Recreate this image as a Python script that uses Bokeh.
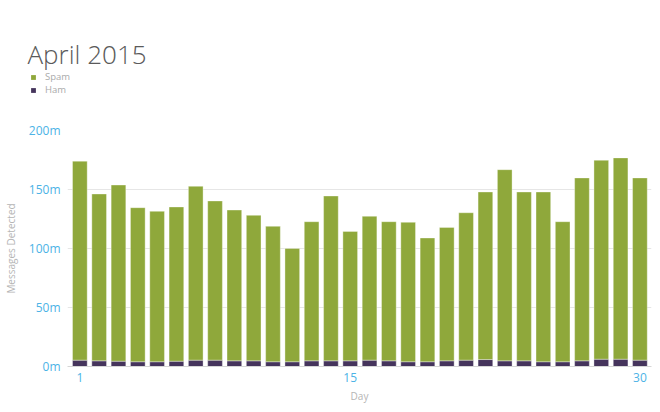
from bokeh.plotting import figure
from bokeh.models import ColumnDataSource, FixedTicker, Legend, LegendItem, Range1d, Label
from bokeh.layouts import column, row
from bokeh.embed import file_html
from bokeh.resources import INLINE

days = list(range(1, 31))
spam = [168.6, 141.4, 149.3, 130.6, 127.5, 130.7, 147.3, 134.9, 127.8, 123.3,
        114.8, 96.1, 117.9, 139.7, 109.7, 121.9, 117.9, 118.2, 104.9, 113.1,
        124.9, 142.0, 162.0, 143.1, 143.9, 118.7, 155.0, 168.6, 170.6, 154.4]
ham = [5.4, 4.8, 4.5, 4.0, 4.0, 4.5, 5.4, 5.4, 4.8, 4.8,
       4.0, 4.0, 4.8, 4.8, 4.8, 5.4, 4.8, 4.0, 4.0, 4.8,
       5.4, 5.9, 4.8, 4.8, 4.0, 4.0, 4.8, 6.2, 6.2, 5.4]
y_ticks = [0, 50, 100, 150, 200]
y_labels = ["0m", "50m", "100m", "150m", "200m"]
x_ticks = [1, 15, 30]
series_names = ["Spam", "Ham"]
title_text = "April 2015"

GREEN = "#8fa83b"
PURPLE = "#45345c"
BLUE = "#4cb3e6"
FONT = "Open Sans"
TITLE_FONT = "'Open Sans Light', 'Open Sans'"

W = 660
HEAD_H = 118

src = ColumnDataSource(dict(day=days, spam=spam, ham=ham))

# ---------- header: title + legend ----------
head = figure(width=W, height=HEAD_H, x_range=Range1d(0, W),
              y_range=Range1d(0, HEAD_H), min_border=0,
              min_border_left=0, min_border_right=0,
              min_border_top=0, min_border_bottom=0,
              x_axis_location=None, y_axis_location=None,
              toolbar_location=None, output_backend="svg")
head.grid.visible = False
head.outline_line_color = None

head.add_layout(Label(x=27, y=HEAD_H - 53, text=title_text,
                      text_font=TITLE_FONT, text_font_size="26px",
                      text_color="#5a5a5a", text_baseline="alphabetic",
                      text_align="left"))

h_spam = head.vbar(x="day", top="spam", width=1, source=src,
                   fill_color=GREEN, line_color=None, visible=False)
h_ham = head.vbar(x="day", top="ham", width=1, source=src,
                  fill_color=PURPLE, line_color=None, visible=False)
legend = Legend(items=[LegendItem(label=series_names[0], renderers=[h_spam]),
                       LegendItem(label=series_names[1], renderers=[h_ham])],
                location=(30, 22), orientation="vertical",
                glyph_width=6, glyph_height=6, label_height=6,
                label_standoff=9, spacing=-2, padding=0, margin=0,
                label_text_font=FONT, label_text_font_size="9.5px",
                label_text_color="#aaaaaa", border_line_color=None,
                background_fill_alpha=0, inactive_fill_alpha=0,
                click_policy="none")
head.add_layout(legend, "center")

# ---------- main chart ----------
p = figure(frame_width=584, frame_height=236, output_backend="svg",
           toolbar_location=None, x_range=Range1d(0.36, 30.6),
           y_range=Range1d(0, 200),
           min_border_left=67, min_border_right=9, min_border_top=12,
           min_border_bottom=20)
p.outline_line_color = None

r = p.vbar_stack(["ham", "spam"], x="day", width=0.76, source=src,
                 color=[PURPLE, GREEN], line_color="white", line_alpha=0.35,
                 line_width=1)

# y axis
p.yaxis.ticker = FixedTicker(ticks=y_ticks)
p.yaxis.major_label_overrides = {t: l for t, l in zip(y_ticks, y_labels)}
p.yaxis.axis_line_color = None
p.yaxis.major_tick_line_color = None
p.yaxis.minor_tick_line_color = None
p.yaxis.major_tick_out = 0
p.yaxis.major_tick_in = 0
p.yaxis.minor_tick_out = 0
p.yaxis.major_label_standoff = 7
p.yaxis.major_label_text_color = BLUE
p.yaxis.major_label_text_font = FONT
p.yaxis.major_label_text_font_size = "12px"
p.yaxis.axis_label = "Messages Detected"
p.yaxis.axis_label_text_font = FONT
p.yaxis.axis_label_text_font_size = "10px"
p.yaxis.axis_label_text_font_style = "normal"
p.yaxis.axis_label_text_color = "#b5b5b5"
p.yaxis.axis_label_standoff = 8

# x axis
p.xaxis.ticker = FixedTicker(ticks=x_ticks)
p.xaxis.axis_line_color = "#d6d6d6"
p.xaxis.major_tick_line_color = None
p.xaxis.minor_tick_line_color = None
p.xaxis.major_tick_out = 0
p.xaxis.major_tick_in = 0
p.xaxis.minor_tick_out = 0
p.xaxis.major_label_standoff = 6
p.xaxis.major_label_text_color = BLUE
p.xaxis.major_label_text_font = FONT
p.xaxis.major_label_text_font_size = "12px"
p.xaxis.axis_label = "Day"
p.xaxis.axis_label_text_font = FONT
p.xaxis.axis_label_text_font_size = "10px"
p.xaxis.axis_label_text_font_style = "normal"
p.xaxis.axis_label_text_color = "#b5b5b5"
p.xaxis.axis_label_standoff = 4

p.xgrid.grid_line_color = None
p.ygrid.grid_line_color = "#e6e6e6"
p.ygrid.ticker = FixedTicker(ticks=y_ticks)

layout = column(row(head), row(p), spacing=0)
open("out.html", "w").write(file_html(layout, INLINE))
